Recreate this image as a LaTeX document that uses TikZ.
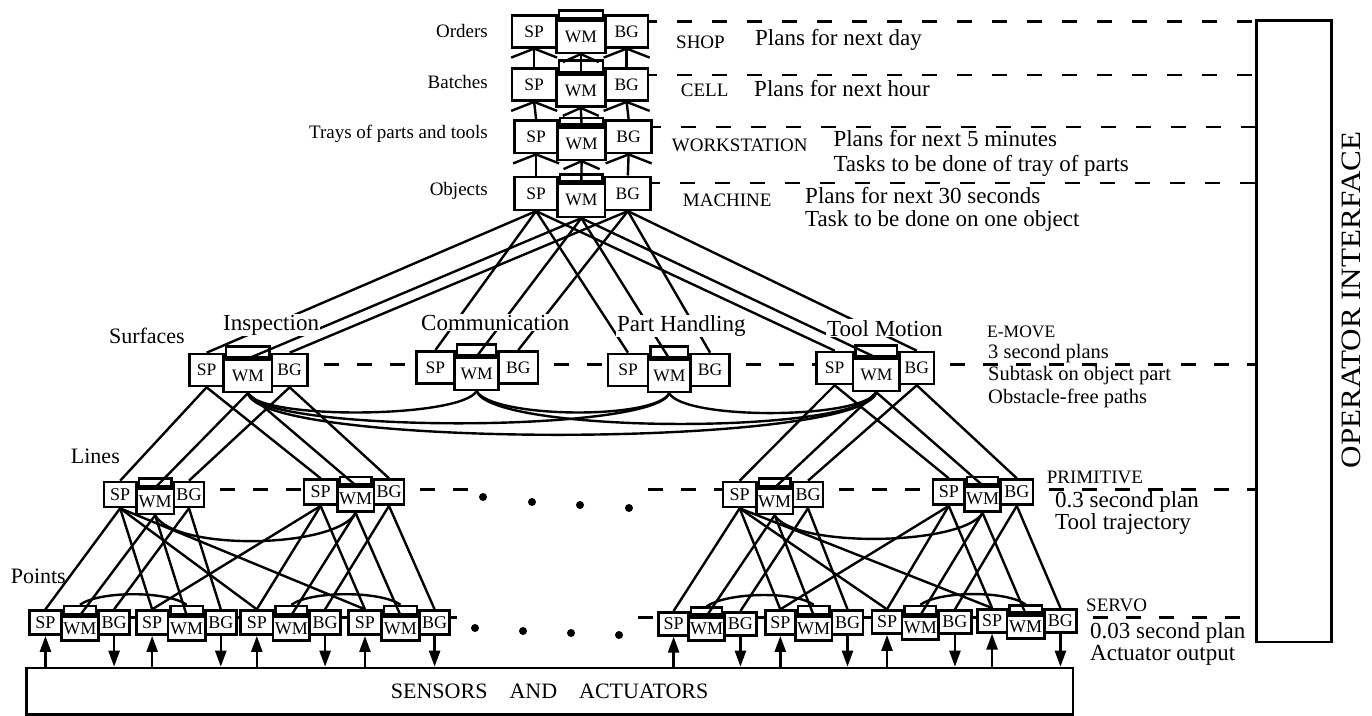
\documentclass[tikz,border=0pt]{standalone}
\usepackage{fontspec}
\setmainfont{Liberation Serif}
\usetikzlibrary{calc,arrows.meta,backgrounds}
\newcommand{\fs}[1]{\fontsize{#1}{#1}\selectfont}
% #1 name, #2 x, #3 y, #4 sp width, #5 wm width, #6 bg width, #7 height, #8 wm offset, #9 tab height
\newcommand{\grp}[9]{%
  \node[box, minimum width=#4, minimum height=#7] (#1-sp) at (#2,#3) {SP};
  \node[box, minimum width=#6, minimum height=#7] (#1-bg) at (#2+#4+#5,#3) {BG};
  \node[box, minimum width=#5, minimum height=#7] (#1-wm) at (#2+#4,#3+#8) {WM};
  \node[tabbox, minimum width=#5-5, minimum height=#9] (#1-tab) at (#1-wm.north) {};
}
\begin{document}
\begin{tikzpicture}[x=1pt,y=-1pt,
  box/.style={draw, fill=white, line width=2.6pt, inner sep=0pt, anchor=north west, font=\fs{17.5}},
  tabbox/.style={draw, line width=2.6pt, inner sep=0pt, anchor=south},
  conn/.style={line width=2.4pt},
  lvltop/.style={line width=2.4pt, dash pattern=on 15pt off 20pt, dash phase=7pt},
  lvl/.style={line width=2.4pt, dash pattern=on 15pt off 18pt, dash phase=18pt},
  arr/.style={line width=2.4pt, -{Triangle[length=16pt,width=11pt]}},
  toplbl/.style={inner sep=0pt, anchor=base east, font=\fs{19}},
  sidelbl/.style={inner sep=0pt, anchor=base east, font=\fs{22}},
  modlbl/.style={inner sep=1pt, anchor=base west, fill=white, font=\fs{23}},
  lvlname/.style={inner sep=0pt, anchor=base west, font=\fs{19}},
  desc/.style={inner sep=0pt, anchor=base west, font=\fs{23}},
  dot/.style={circle, fill=black, inner sep=0pt, minimum size=8pt}]
\useasboundingbox (0,0) rectangle (1372,715);

% ---------- top stack ----------
\grp{t1}{510.7}{14}{44.3}{49}{42.7}{32}{5.5}{7.5}
\grp{t2}{510.7}{67.3}{44.3}{49}{42.7}{32}{6}{11.5}
\grp{t3}{513.3}{119.3}{43}{48}{46}{32.5}{6.7}{6.7}
\grp{t4}{513.3}{175.5}{43}{47.5}{45.5}{33}{7}{7}

% ---------- E-MOVE ----------
\grp{insp}{188.3}{352.7}{34}{48.4}{35.3}{32}{6}{11}
\grp{comm}{415}{350}{38.3}{44}{39.4}{32}{6.5}{11}
\grp{ph}{606.7}{352.7}{40}{42.6}{39}{32}{6}{11}
\grp{tm}{815}{350.7}{36.7}{46.6}{34.4}{32}{7}{11}

% ---------- PRIMITIVE ----------
\begin{scope}[box/.append style={font=\fs{18}}]
\grp{p1}{102.7}{480.7}{32.3}{37.7}{30}{25}{7}{8}
\grp{p2}{302.7}{478.3}{33.3}{36.7}{30}{25}{7}{7}
\grp{p3}{721.7}{480.7}{33.3}{36.7}{30}{25}{7}{8}
\grp{p4}{931.7}{478.3}{31.6}{36}{32.4}{25}{7}{7}
\end{scope}

% ---------- SERVO ----------
\begin{scope}[box/.append style={font=\fs{18}}]
\grp{s1}{28.3}{609.3}{31.7}{37.3}{31}{24}{6}{8}
\grp{s2}{135}{609.3}{31.7}{37.3}{31}{24}{6}{8}
\grp{s3}{239.3}{609.3}{32.4}{36.6}{31}{24}{6}{8}
\grp{s4}{347.3}{609.3}{32.7}{38.3}{30}{24}{6}{8}
\grp{s5}{657.3}{611}{30}{36}{31.7}{23}{5}{7}
\grp{s6}{764}{609.3}{30}{36.7}{31}{24}{6}{8}
\grp{s7}{870.7}{609.3}{30}{36.6}{32.7}{23}{6}{8}
\grp{s8}{976}{608}{29.5}{37.8}{31.7}{23}{6}{7}
\end{scope}

% ---------- big boxes ----------
\node[draw, line width=2.6pt, minimum width=1046.7, minimum height=46.3, anchor=north west, inner sep=0pt, font=\fs{22}] (sens) at (25,666.7) {SENSORS\hspace{22pt}AND\hspace{22pt}ACTUATORS};
\node[draw, line width=2.6pt, minimum width=75, minimum height=621.5, anchor=north west, inner sep=0pt] (oi) at (1255,19.2) {};
\node[rotate=90, inner sep=0pt, font=\fs{28}] (oitext) at (1351,300) {\scalebox{1.11}[1]{OPERATOR INTERFACE}};

% ---------- labels ----------
\node[toplbl] (lorders) at (488,37) {Orders};
\node[toplbl] (lbatches) at (488,88) {Batches};
\node[toplbl] (ltrays) at (488,138) {Trays of parts and tools};
\node[toplbl] (lobjects) at (488,195) {Objects};
\node[sidelbl] (lsurf) at (185,343) {Surfaces};
\node[sidelbl] (llines) at (120,463) {Lines};
\node[sidelbl] (lpoints) at (66,583) {Points};
\node[modlbl] (linsp) at (222,330) {Inspection};
\node[modlbl] (lcomm) at (420,330) {Communication};
\node[modlbl] (lph) at (616,331.5) {Part Handling};
\node[modlbl] (ltm) at (826,336) {Tool Motion};

\node[lvlname] (nshop) at (676,48.3) {SHOP};
\node[desc] (dshop) at (755,45) {Plans for next day};
\node[lvlname] (ncell) at (680.7,96) {CELL};
\node[desc] (dcell) at (754,96.7) {Plans for next hour};
\node[lvlname] (nws) at (671.7,151.7) {WORKSTATION};
\node[desc] (dws1) at (833.3,146.7) {Plans for next 5 minutes};
\node[desc] (dws2) at (833.3,171.7) {Tasks to be done of tray of parts};
\node[lvlname] (nmach) at (682.7,206.7) {MACHINE};
\node[desc] (dm1) at (805,203.3) {Plans for next 30 seconds};
\node[desc] (dm2) at (805,226.7) {Task to be done on one object};
\node[lvlname, font=\fs{17.5}] (nemove) at (987,337) {E-MOVE};
\node[desc, font=\fs{20.5}] (de1) at (988,358) {3 second plans};
\node[desc, font=\fs{20.5}] (de2) at (988,380.7) {Subtask on object part};
\node[desc, font=\fs{20.5}] (de3) at (988,403.6) {Obstacle-free paths};
\node[lvlname] (nprim) at (1046.7,483.4) {PRIMITIVE};
\node[desc] (dp1) at (1055,507) {0.3 second plan};
\node[desc] (dp2) at (1055,529) {Tool trajectory};
\node[lvlname] (nservo) at (1086,611) {SERVO};
\node[desc] (ds1) at (1090,638.4) {0.03 second plan};
\node[desc] (ds2) at (1090,660) {Actuator output};

% ---------- dots ----------
\node[dot] (pd1) at (483,497) {};
\node[dot] (pd2) at (532,502) {};
\node[dot] (pd3) at (580,505) {};
\node[dot] (pd4) at (629,508) {};
\node[dot] (sd1) at (475,628) {};
\node[dot] (sd2) at (523,631) {};
\node[dot] (sd3) at (571,633) {};
\node[dot] (sd4) at (619,635) {};

% ---------- arrows ----------
\foreach \s in {s1,s2,s3,s4,s5,s6,s7,s8}{
  \draw[arr] (\s-sp.south |- sens.north) -- (\s-sp.south);
  \draw[arr] (\s-bg.south) -- (\s-bg.south |- sens.north);
}

\begin{scope}[on background layer]
% top stack verticals and stubs
\foreach \a/\b in {t1/t2,t2/t3,t3/t4}{
  \foreach \k in {sp,wm,bg} \draw[conn] (\a-\k.south) -- (\b-\k.north);
  \foreach \k in {sp,bg} \draw[conn] ($(\a-\k.south)+(-23,9)$) -- (\a-\k.south) -- ($(\a-\k.south)+(23,9)$);
  \draw[conn] ($(\a-wm.south)+(-18,8)$) -- (\a-wm.south) -- ($(\a-wm.south)+(18,8)$);
}
% objects to E-MOVE
\foreach \g in {insp,comm,ph,tm}
  \foreach \k in {sp,wm,bg} \draw[conn] (t4-\k.south) -- (\g-\k.north);
% E-MOVE to primitive
\foreach \g/\p in {insp/p1,insp/p2,tm/p3,tm/p4}
  \foreach \k in {sp,wm,bg} \draw[conn] (\g-\k.south) -- (\p-\k.north);
% primitive to servo
\foreach \p/\s in {p1/s1,p1/s2,p2/s3,p2/s4,p3/s5,p3/s6,p4/s7,p4/s8}
  \foreach \k in {sp,wm,bg} \draw[conn] (\p-\k.south) -- (\s-\k.north);
\foreach \p/\s in {p2/s2,p1/s3,p1/s4,p4/s6,p3/s7,p3/s8}
  \draw[conn] (\p-sp.south) -- (\s-sp.north);
% WM curves
\draw[conn] (insp-wm.south) .. controls +(15,27) and +(-15,27) .. (comm-wm.south);
\draw[conn] (insp-wm.south) .. controls +(15,40) and +(-15,40) .. (ph-wm.south);
\draw[conn] (insp-wm.south) .. controls +(15,56) and +(-15,56) .. (tm-wm.south);
\draw[conn] (comm-wm.south) .. controls +(15,27) and +(-15,27) .. (ph-wm.south);
\draw[conn] (comm-wm.south) .. controls +(15,43) and +(-15,43) .. (tm-wm.south);
\draw[conn] (ph-wm.south) .. controls +(15,27) and +(-15,27) .. (tm-wm.south);
\draw[conn] (p1-wm.south) .. controls +(20,36) and +(-20,36) .. (p2-wm.south);
\draw[conn] (p3-wm.south) .. controls +(20,33) and +(-20,33) .. (p4-wm.south);
\foreach \a/\b in {s1/s2,s3/s4,s5/s6,s7/s8}
  \draw[conn] (\a-tab.north) .. controls +(20,-14) and +(-20,-14) .. (\b-tab.north);
% level lines
\foreach \a in {t1,t2,t3,t4}{
  \coordinate (\a-L) at ([yshift=-7.5pt]\a-bg.north east);
  \draw[lvltop] (\a-L) -- (\a-L -| oi.west);
}
\coordinate (eL) at ([yshift=-11.6pt]insp-bg.north east);
\draw[lvl] (eL) -- (eL -| comm-sp.west);
\draw[lvl] (comm-bg.east |- eL) -- (eL -| ph-sp.west);
\draw[lvl] (ph-bg.east |- eL) -- (eL -| tm-sp.west);
\draw[lvl] (tm-bg.east |- eL) -- (eL -| oi.west);
\coordinate (pL) at ([yshift=-8.6pt]p1-bg.north east);
\draw[lvl] (pL) -- (pL -| p2-sp.west);
\draw[lvl] (p2-bg.east |- pL) -- (pL -| pd1.west);
\draw[lvl] (pL -| pd4.east) -- (pL -| p3-sp.west);
\draw[lvl] (p3-bg.east |- pL) -- (pL -| p4-sp.west);
\draw[lvl] (p4-bg.east |- pL) -- (pL -| oi.west);
\coordinate (sL) at ([yshift=-8pt]s1-bg.north east);
\draw[conn] (sL) -- (sL -| s2-sp.west);
\draw[conn] (s2-bg.east |- sL) -- (sL -| s3-sp.west);
\draw[conn] (s3-bg.east |- sL) -- (sL -| s4-sp.west);
\draw[conn] (s4-bg.east |- sL) -- ++(6,0);
\draw[lvl] (sL -| sd4.east) -- (sL -| s5-sp.west);
\draw[conn] (s5-bg.east |- sL) -- (sL -| s6-sp.west);
\draw[conn] (s6-bg.east |- sL) -- (sL -| s7-sp.west);
\draw[conn] (s7-bg.east |- sL) -- (sL -| s8-sp.west);
\draw[lvl] (s8-bg.east |- sL) -- (sL -| oi.west);
\end{scope}
\end{tikzpicture}
\end{document}
